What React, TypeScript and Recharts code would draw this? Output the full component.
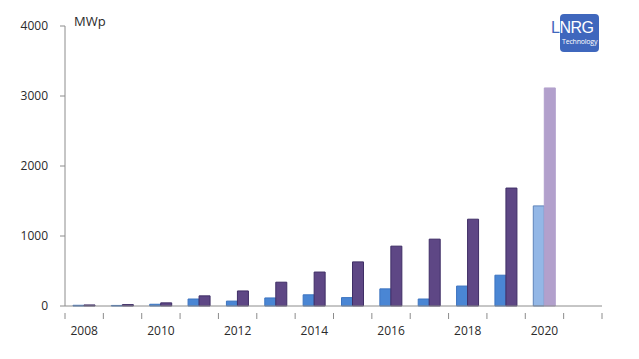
import { BarChart, Bar, XAxis, YAxis, Cell } from 'recharts';

// installed PV capacity per year (MWp), 2020 is forecast
const years = ['2008', '2009', '2010', '2011', '2012', '2013', '2014', '2015', '2016', '2017', '2018', '2019', '2020', '2021'];
const annualValues = [10, 8, 25, 100, 70, 115, 160, 120, 245, 100, 285, 440, 1430, null];
const cumulativeValues = [15, 20, 45, 145, 215, 340, 485, 630, 855, 955, 1240, 1685, 3115, null];
const yTicks = [0, 1000, 2000, 3000, 4000];
const forecastYear = '2020';

const data = years.map((year, i) => ({
    year,
    annual: annualValues[i],
    cumulative: cumulativeValues[i],
}));

const font = '"Open Sans", sans-serif';
const axisColor = '#8c8c8c';
const textColor = '#2a2a2a';

const WIDTH = 639;
const HEIGHT = 359;
const PLOT_LEFT = 65;
const PLOT_RIGHT = 602;
const band = (PLOT_RIGHT - PLOT_LEFT) / years.length;

function YearTick(props: any) {
    const { x, y, payload, index } = props;
    const left = x - band / 2;
    const isLast = index === years.length - 1;
    const showLabel = Number(payload.value) % 2 === 0;
    return (
        <g>
            <line x1={left} x2={left} y1={y - 1} y2={y + 5} stroke={axisColor} />
            {isLast && <line x1={x + band / 2} x2={x + band / 2} y1={y - 1} y2={y + 5} stroke={axisColor} />}
            {showLabel && (
                <text x={x} y={y + 21} textAnchor="middle" fontSize={12} fontFamily={font} fill={textColor}>
                    {payload.value}
                </text>
            )}
        </g>
    );
}

function Logo() {
    return (
        <div style={{ position: 'absolute', left: 551, top: 14, width: 49, height: 38 }}>
            <div
                style={{
                    position: 'absolute',
                    left: 9,
                    top: 0,
                    width: 39,
                    height: 38,
                    background: '#3f67bd',
                    borderRadius: 4,
                }}
            />
            <div
                style={{
                    position: 'absolute',
                    left: 0,
                    top: 5,
                    fontFamily: '"Liberation Sans", sans-serif',
                    fontSize: 16,
                    lineHeight: '17px',
                    letterSpacing: -0.5,
                    color: '#ffffff',
                }}
            >
                <span style={{ color: '#3f67bd' }}>L</span>NRG
            </div>
            <div
                style={{
                    position: 'absolute',
                    left: 11,
                    top: 24,
                    fontFamily: font,
                    fontSize: 7,
                    lineHeight: '8px',
                    letterSpacing: -0.2,
                    color: '#ffffff',
                }}
            >
                Technology
            </div>
        </div>
    );
}

export default function App() {
    return (
        <div style={{ position: 'fixed', left: 0, top: 0, width: WIDTH, height: HEIGHT, background: '#fff' }}>
            <BarChart
                width={WIDTH}
                height={HEIGHT}
                data={data}
                barGap={0}
                margin={{ top: 26, right: WIDTH - PLOT_RIGHT, bottom: 23, left: 0 }}
            >
                <XAxis
                    dataKey="year"
                    height={30}
                    axisLine={{ stroke: axisColor }}
                    tickLine={false}
                    tick={<YearTick />}
                    interval={0}
                />
                <YAxis
                    width={PLOT_LEFT}
                    domain={[0, 4000]}
                    ticks={yTicks}
                    axisLine={{ stroke: axisColor }}
                    tickLine={{ stroke: axisColor }}
                    tickSize={5}
                    tickMargin={12}
                    tick={{ fontSize: 12, fontFamily: font, fill: textColor }}
                />
                <Bar dataKey="annual" barSize={11} fill="#4a86d4" stroke="#3d74c0" isAnimationActive={false}>
                    {data.map((d) => (
                        <Cell
                            key={d.year}
                            fill={d.year === forecastYear ? '#93b7e6' : '#4a86d4'}
                            stroke={d.year === forecastYear ? '#5f84bb' : '#3d74c0'}
                        />
                    ))}
                </Bar>
                <Bar dataKey="cumulative" barSize={11} fill="#5e4785" stroke="#3f2e66" isAnimationActive={false}>
                    {data.map((d) => (
                        <Cell
                            key={d.year}
                            fill={d.year === forecastYear ? '#b2a0cc' : '#5e4785'}
                            stroke={d.year === forecastYear ? '#b2a0cc' : '#3f2e66'}
                        />
                    ))}
                </Bar>
                <text x={74} y={26} fontSize={13} fontFamily={font} fill={textColor}>
                    MWp
                </text>
            </BarChart>
            <Logo />
        </div>
    );
}
